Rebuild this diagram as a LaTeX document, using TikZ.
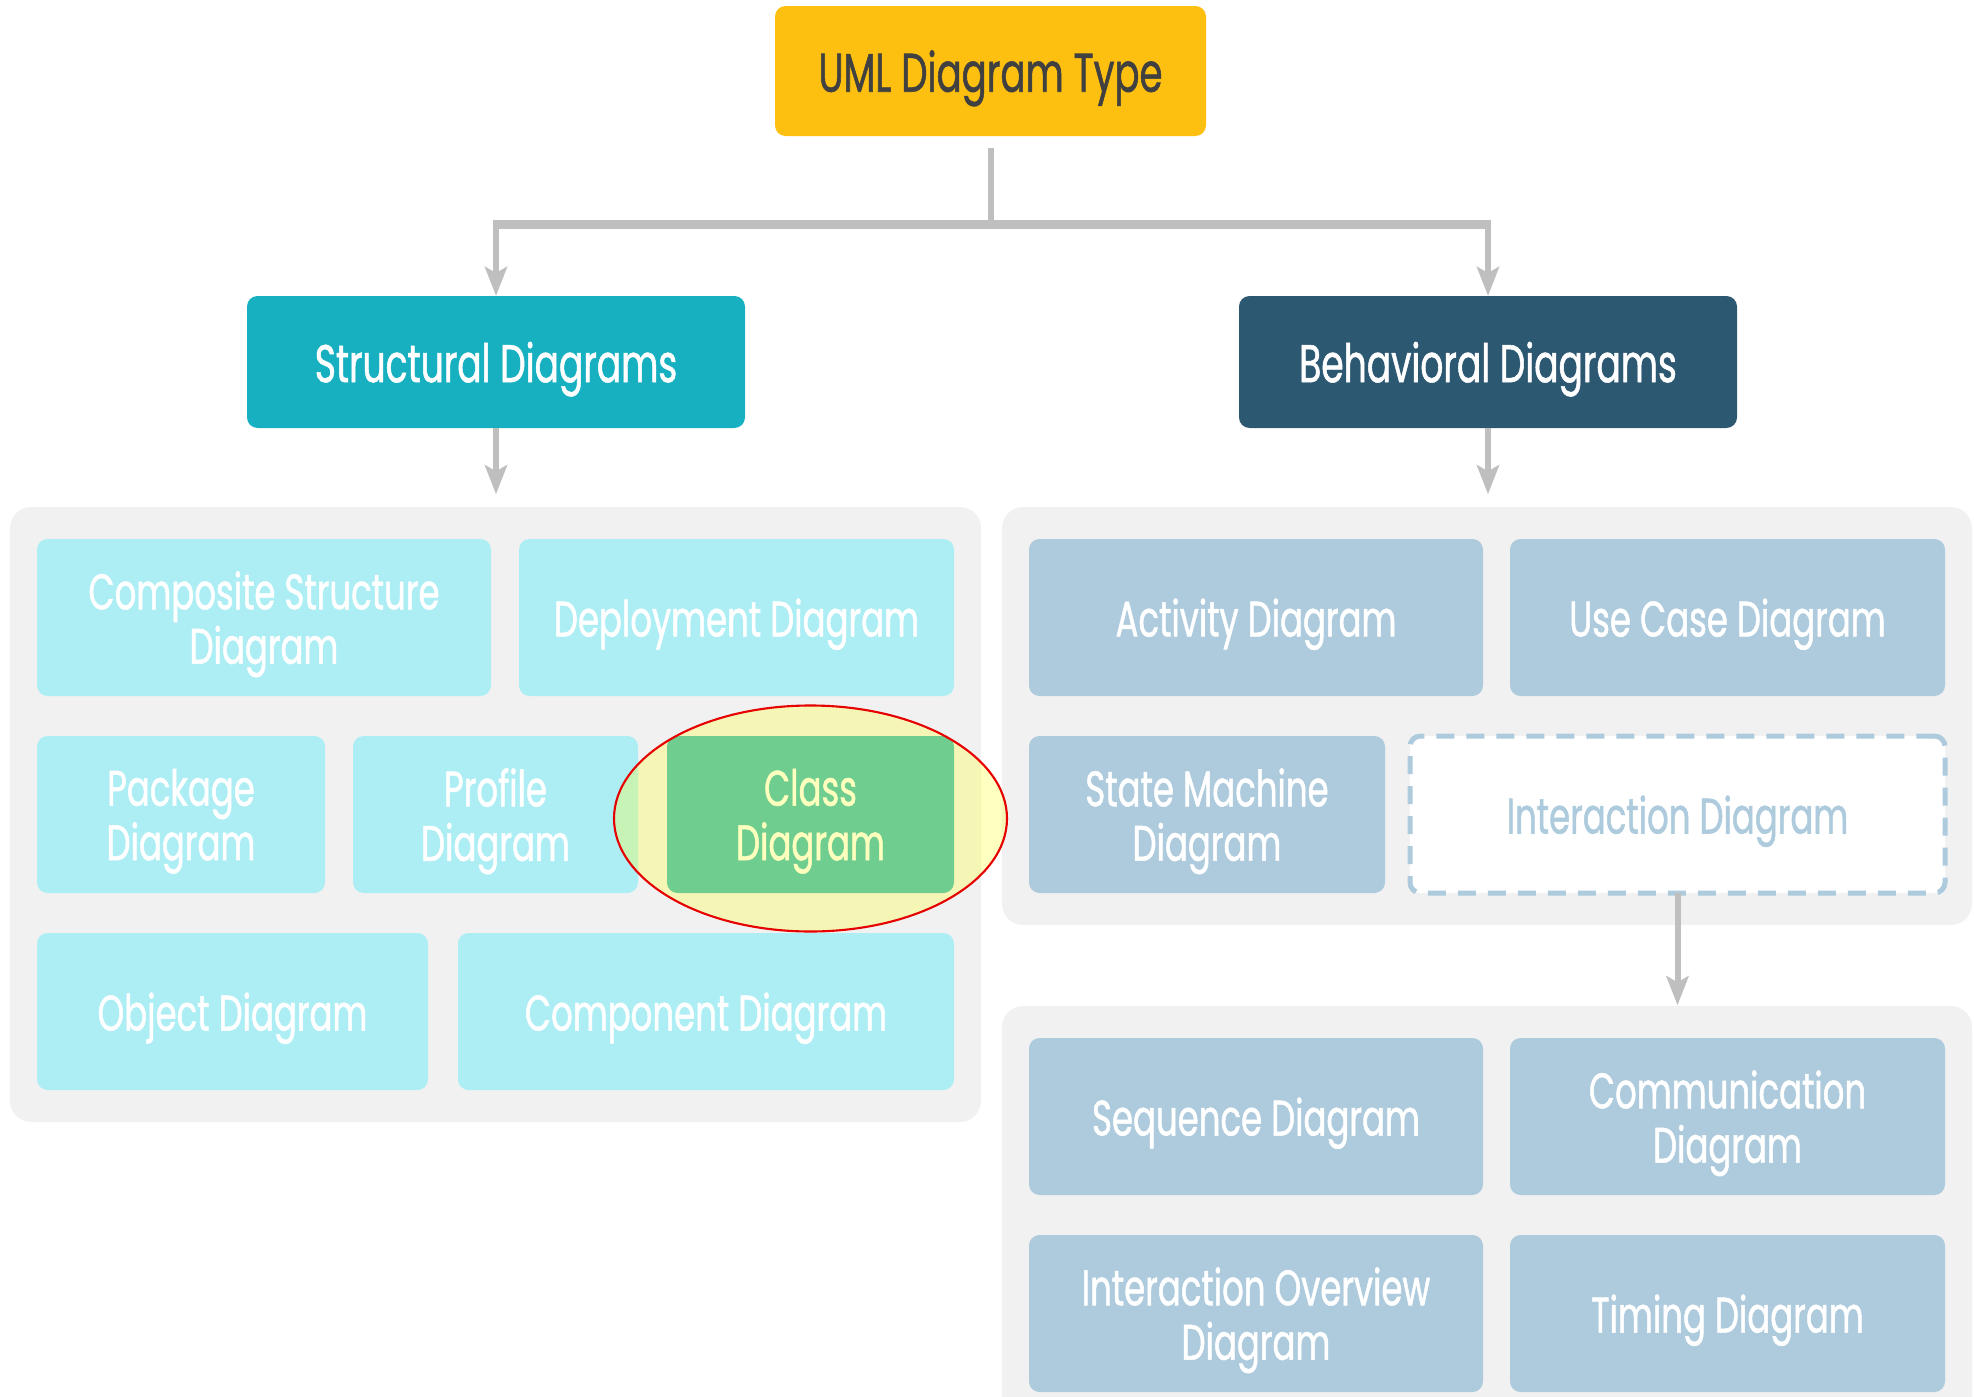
\documentclass[tikz,border=0pt]{standalone}
\usepackage{fontspec}
\setmainfont{Poppins}[FakeStretch=0.68, FakeBold=1]
\usetikzlibrary{positioning,arrows.meta,shapes.geometric,fit,backgrounds}

\definecolor{umlyellow}{RGB}{253,192,16}
\definecolor{structteal}{RGB}{22,176,192}
\definecolor{behavblue}{RGB}{45,88,113}
\definecolor{panelgray}{RGB}{241,241,241}
\definecolor{lightcyan}{RGB}{173,238,245}
\definecolor{lightsteel}{RGB}{173,203,221}
\definecolor{classteal}{RGB}{36,180,183}
\definecolor{textgray}{RGB}{64,64,64}
\definecolor{linegray}{RGB}{191,191,191}
\definecolor{markyellow}{RGB}{255,255,66}
\definecolor{markred}{RGB}{230,0,0}
\newcommand{\boxfont}{\fontsize{14.2}{15.5}\selectfont}
\newcommand{\headfont}{\fontsize{15.1}{17}\selectfont}

\begin{document}
\begin{tikzpicture}[
    box/.style={rectangle, rounded corners=3pt, minimum height=1.57cm, inner sep=0pt,
                outer sep=0pt, align=center, text=white, text depth=0pt, font=\boxfont},
    head/.style={box, minimum width=4.98cm, minimum height=1.32cm, font=\headfont},
    sbox/.style={box, fill=lightcyan},
    bbox/.style={box, fill=lightsteel},
    panel/.style={fill=panelgray, rounded corners=6pt, inner xsep=0.27cm, inner ysep=0.32cm},
    focus/.style={ellipse, draw=markred, line width=0.6pt, fill=markyellow, fill opacity=0.34,
                  minimum width=3.93cm, minimum height=2.26cm, inner sep=0pt},
    stem/.style={line width=0.06cm, linegray},
    bar/.style={line width=0.09cm, linegray, shorten <=-0.03cm, shorten >=-0.03cm},
    arrow/.style={-{Stealth[length=2.9mm, width=2.2mm, inset=0.6mm]}, line width=0.06cm, linegray},
]
\useasboundingbox (0,0) rectangle (19.74,-13.97);

% Root and the two families
\node[head, fill=umlyellow, text=textgray, minimum width=4.31cm, minimum height=1.30cm, font=\fontsize{15.5}{17}\selectfont] (uml) at (9.905,-0.71) {UML Diagram Type};
\node[head, fill=structteal] (struct) at (4.96,-3.62) {Structural Diagrams};
\node[head, fill=behavblue, right=4.94cm of struct] (behav) {Behavioral Diagrams};

% Structural diagrams
\node[sbox, minimum width=4.54cm] (composite) at (2.64,-6.175) {Composite Structure\\Diagram};
\node[sbox, minimum width=4.35cm, right=0.28cm of composite] (deploy) {Deployment Diagram};
\node[sbox, minimum width=2.88cm, below right=0.4cm and 0cm of composite.south west] (package) {Package\\Diagram};
\node[sbox, minimum width=2.85cm, right=0.28cm of package] (profile) {Profile\\Diagram};
\node[sbox, fill=classteal, minimum width=2.87cm, right=0.29cm of profile] (class) {Class\\Diagram};
\node[sbox, minimum width=3.91cm, below right=0.4cm and 0cm of package.south west] (object) {Object Diagram};
\node[sbox, minimum width=4.96cm, right=0.30cm of object] (component) {Component Diagram};

% Behavioral diagrams
\node[bbox, minimum width=4.54cm, right=0.75cm of deploy] (activity) {Activity Diagram};
\node[bbox, minimum width=4.35cm, right=0.27cm of activity] (usecase) {Use Case Diagram};
\node[bbox, minimum width=3.56cm, below right=0.4cm and 0cm of activity.south west] (state) {State Machine\\Diagram};
\node[bbox, fill=white, draw=lightsteel, dash pattern=on 0.18cm off 0.12cm, line width=0.05cm,
      text=lightsteel, minimum width=5.35cm, right=0.25cm of state] (inter) {Interaction Diagram};

% Interaction diagrams
\node[bbox, minimum width=4.54cm, below right=1.45cm and 0cm of state.south west] (sequence) {Sequence Diagram};
\node[bbox, minimum width=4.35cm, right=0.27cm of sequence] (comm) {Communication\\Diagram};
\node[bbox, minimum width=4.54cm, below right=0.4cm and 0cm of sequence.south west] (overview) {Interaction Overview\\Diagram};
\node[bbox, minimum width=4.35cm, right=0.27cm of overview] (timing) {Timing Diagram};

% Highlight
\node[focus] (classmark) at ([yshift=-0.04cm]class.center) {};

% Group panels
\begin{scope}[on background layer]
  \node[panel, fit=(composite)(deploy)(component)] (spanel) {};
  \node[panel, fit=(activity)(usecase)(inter)] (bpanel) {};
  \node[panel, fit=(sequence)(comm)(overview)(timing)] (ipanel) {};
\end{scope}

% Connectors
\draw[stem] ([yshift=-0.12cm]uml.south) -- ++(0,-0.76) coordinate (split);
\draw[bar] (split -| struct.north) -- (split -| behav.north);
\draw[arrow] (split -| struct.north) -- (struct.north);
\draw[arrow] (split -| behav.north) -- (behav.north);
\draw[arrow] (struct.south) -- ([yshift=0.12cm]struct.south |- spanel.north);
\draw[arrow] (behav.south) -- ([yshift=0.12cm]behav.south |- bpanel.north);
\draw[arrow] (inter.south) -- (inter.south |- ipanel.north);
\end{tikzpicture}
\end{document}
